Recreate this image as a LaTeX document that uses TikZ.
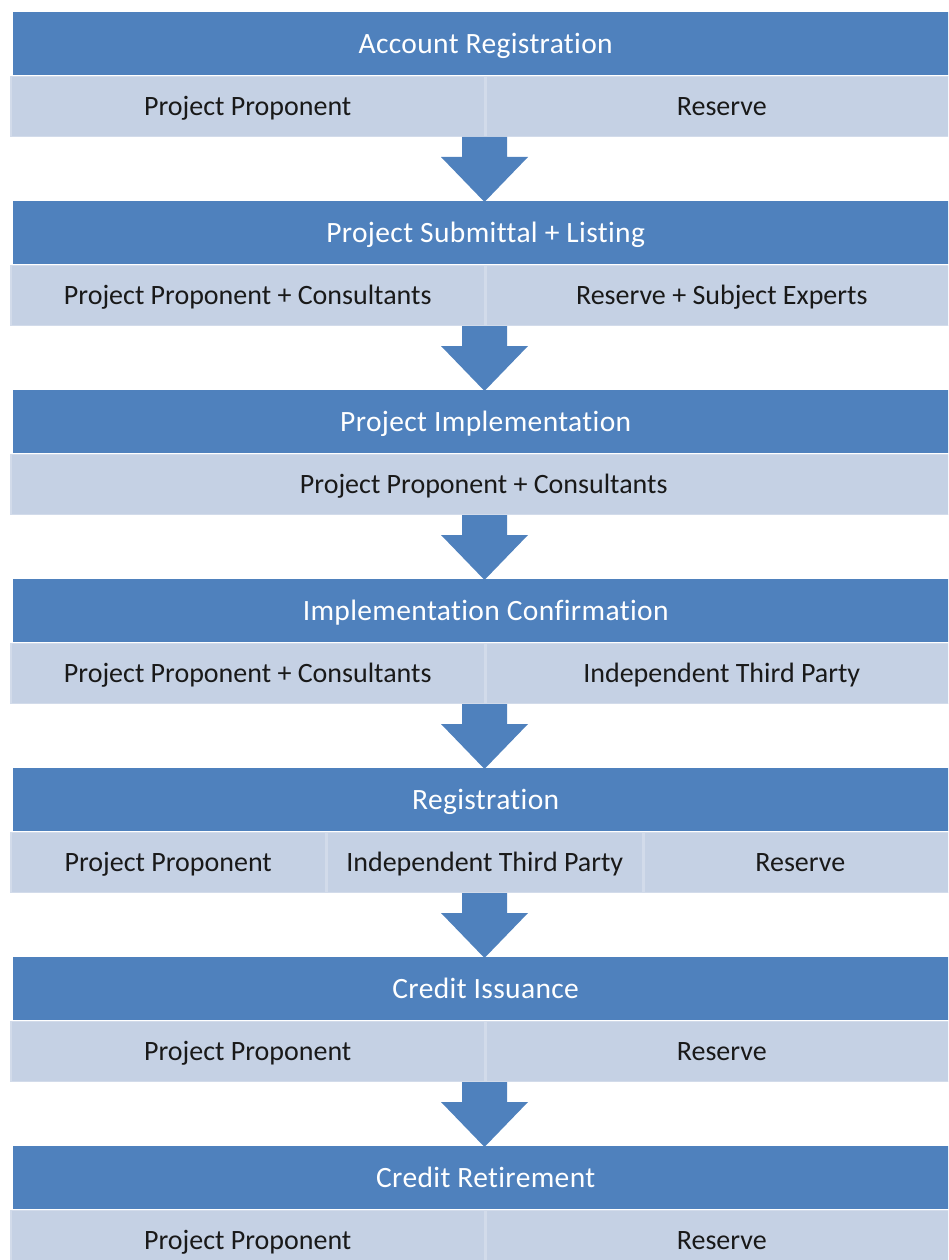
\documentclass[tikz,border=0pt]{standalone}
\usepackage{fontspec}
\setmainfont{Carlito}[Ligatures={NoCommon}]
\newfontfamily\hdrfont{Carlito}[Ligatures={NoCommon},LetterSpace=1.2]
\definecolor{hdr}{HTML}{4F81BD}
\definecolor{cellc}{HTML}{C5D1E4}
\definecolor{celledge}{HTML}{D2DBEA}
\begin{document}
\begin{tikzpicture}[x=1pt,y=-1pt,
  hdrbox/.style={fill=hdr, draw=none, minimum width=945pt, minimum height=63pt, inner sep=0pt, text=white, font=\hdrfont\fontsize{29.5}{31}\selectfont, text height=19pt, text depth=0pt, anchor=north west},
  cellbox/.style={fill=cellc, draw=celledge, line width=1.5pt, minimum height=60pt, inner sep=0pt, text=black!90, font=\fontsize{28}{30}\selectfont, text height=18pt, text depth=0pt, anchor=north west},
  flowarrow/.style={fill=hdr, draw=none}]
\useasboundingbox (0,0) rectangle (948,1260);
\clip (0,0) rectangle (948,1260);
% headers
\node[hdrbox] (h1) at (13,12)   {Account Registration};
\node[hdrbox] (h2) at (13,201)  {Project Submittal + Listing};
\node[hdrbox] (h3) at (13,390)  {Project Implementation};
\node[hdrbox] (h4) at (13,579)  {Implementation Confirmation};
\node[hdrbox] (h5) at (13,768)  {Registration};
\node[hdrbox] (h6) at (13,957)  {Credit Issuance};
\node[hdrbox] (h7) at (13,1146) {Credit Retirement};
% cells
\node[cellbox, minimum width=474pt] (c1a) at (10,75.75) {Project Proponent};
\node[cellbox, minimum width=471pt] (c1b) at (485.5,75.75) {Reserve};
\node[cellbox, minimum width=474pt] (c2a) at (10,264.75) {Project Proponent + Consultants};
\node[cellbox, minimum width=471pt] (c2b) at (485.5,264.75) {Reserve + Subject Experts};
\node[cellbox, minimum width=946pt] (c3a) at (10,453.75) {Project Proponent + Consultants};
\node[cellbox, minimum width=474pt] (c4a) at (10,642.75) {Project Proponent + Consultants};
\node[cellbox, minimum width=471pt] (c4b) at (485.5,642.75) {Independent Third Party};
\node[cellbox, minimum width=315pt] (c5a) at (10,831.75) {Project Proponent};
\node[cellbox, minimum width=315pt] (c5b) at (326.5,831.75) {Independent Third Party};
\node[cellbox, minimum width=313pt] (c5c) at (643,831.75) {Reserve};
\node[cellbox, minimum width=474pt] (c6a) at (10,1020.75) {Project Proponent};
\node[cellbox, minimum width=471pt] (c6b) at (485.5,1020.75) {Reserve};
\node[cellbox, minimum width=474pt] (c7a) at (10,1209.75) {Project Proponent};
\node[cellbox, minimum width=471pt] (c7b) at (485.5,1209.75) {Reserve};
% arrows
\foreach \i in {1,...,6} {
  \pgfmathsetmacro\yb{137+189*(\i-1)}
  \fill[flowarrow] (462,\yb) -- (507,\yb) -- (507,\yb+20) -- (528,\yb+20) -- (484.5,\yb+65) -- (441,\yb+20) -- (462,\yb+20) -- cycle;
}
\end{tikzpicture}
\end{document}
